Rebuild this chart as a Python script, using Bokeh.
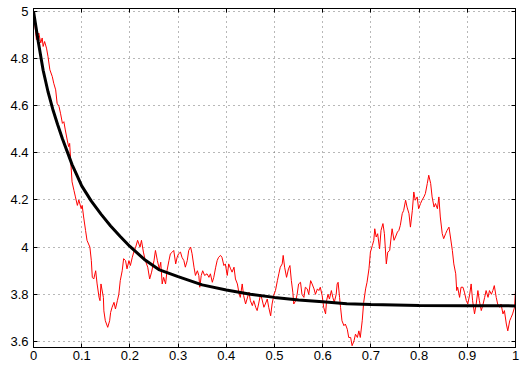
from bokeh.plotting import figure
from bokeh.models import LinearAxis, FixedTicker, CustomJSTickFormatter, Range1d
from bokeh.embed import file_html
from bokeh.resources import INLINE

# noisy path
red_x = [0, 0.006, 0.011, 0.015, 0.018, 0.02, 0.023, 0.027, 0.03, 0.034, 0.039, 0.042, 0.046, 0.049,
         0.053, 0.056, 0.06, 0.063, 0.066, 0.07, 0.073, 0.075, 0.078, 0.08, 0.084, 0.087, 0.091, 0.094,
         0.099, 0.101, 0.104, 0.108, 0.111, 0.117, 0.12, 0.122, 0.125, 0.129, 0.132, 0.136, 0.138, 0.14,
         0.145, 0.146, 0.149, 0.154, 0.158, 0.16, 0.163, 0.167, 0.17, 0.174, 0.177, 0.18, 0.184, 0.187,
         0.191, 0.194, 0.198, 0.201, 0.205, 0.208, 0.212, 0.216, 0.221, 0.224, 0.228, 0.232, 0.237, 0.241,
         0.245, 0.25, 0.253, 0.257, 0.261, 0.264, 0.267, 0.27, 0.274, 0.277, 0.281, 0.284, 0.288, 0.291,
         0.295, 0.298, 0.301, 0.305, 0.308, 0.312, 0.315, 0.319, 0.322, 0.326, 0.329, 0.333, 0.336, 0.34,
         0.343, 0.345, 0.348, 0.351, 0.355, 0.36, 0.364, 0.367, 0.371, 0.374, 0.378, 0.381, 0.384, 0.388,
         0.391, 0.395, 0.398, 0.402, 0.405, 0.409, 0.412, 0.416, 0.419, 0.423, 0.426, 0.429, 0.433, 0.436,
         0.44, 0.443, 0.447, 0.45, 0.454, 0.457, 0.461, 0.464, 0.467, 0.471, 0.474, 0.478, 0.481, 0.485,
         0.488, 0.492, 0.495, 0.499, 0.502, 0.506, 0.509, 0.512, 0.516, 0.518, 0.521, 0.525, 0.529, 0.532,
         0.535, 0.538, 0.54, 0.544, 0.547, 0.55, 0.554, 0.557, 0.561, 0.564, 0.568, 0.571, 0.575, 0.578,
         0.582, 0.585, 0.589, 0.592, 0.595, 0.599, 0.602, 0.606, 0.608, 0.611, 0.614, 0.618, 0.621, 0.624,
         0.628, 0.63, 0.632, 0.635, 0.637, 0.64, 0.644, 0.647, 0.651, 0.654, 0.658, 0.661, 0.665, 0.668,
         0.672, 0.675, 0.678, 0.682, 0.685, 0.689, 0.692, 0.696, 0.699, 0.703, 0.706, 0.708, 0.711, 0.714,
         0.718, 0.721, 0.725, 0.728, 0.732, 0.735, 0.739, 0.742, 0.744, 0.748, 0.751, 0.755, 0.758, 0.761,
         0.765, 0.768, 0.772, 0.775, 0.779, 0.782, 0.786, 0.789, 0.792, 0.796, 0.799, 0.803, 0.806, 0.81,
         0.813, 0.817, 0.82, 0.824, 0.827, 0.831, 0.834, 0.838, 0.841, 0.844, 0.848, 0.851, 0.855, 0.858,
         0.862, 0.865, 0.869, 0.872, 0.876, 0.878, 0.88, 0.884, 0.887, 0.891, 0.894, 0.898, 0.901, 0.905,
         0.908, 0.911, 0.915, 0.918, 0.922, 0.925, 0.929, 0.932, 0.936, 0.939, 0.943, 0.946, 0.95, 0.953,
         0.956, 0.96, 0.963, 0.967, 0.97, 0.974, 0.977, 0.981, 0.984, 0.988, 0.991, 0.994, 0.998, 1.0]
red_y = [5.0, 4.88, 4.908, 4.866, 4.887, 4.851, 4.872, 4.844, 4.809, 4.752, 4.723, 4.695, 4.667, 4.61,
         4.596, 4.568, 4.525, 4.532, 4.497, 4.454, 4.426, 4.44, 4.34, 4.277, 4.24, 4.213, 4.177, 4.2,
         4.163, 4.177, 4.128, 4.071, 4.029, 4.0, 3.943, 3.872, 3.865, 3.90, 3.844, 3.787, 3.773, 3.844,
         3.787, 3.73, 3.688, 3.66, 3.688, 3.723, 3.745, 3.766, 3.738, 3.773, 3.80, 3.858, 3.90, 3.951,
         3.943, 3.908, 3.943, 3.922, 3.957, 3.979, 4.0, 4.029, 4.0, 4.029, 3.979, 3.943, 3.915, 3.865,
         3.894, 3.943, 3.986, 3.943, 3.908, 3.936, 3.844, 3.872, 3.844, 3.90, 3.943, 3.972, 3.979, 3.986,
         3.929, 3.957, 3.972, 3.979, 3.957, 3.943, 3.915, 3.943, 3.986, 4.0, 3.972, 3.915, 3.88, 3.90,
         3.88, 3.83, 3.88, 3.90, 3.88, 3.887, 3.872, 3.887, 3.851, 3.872, 3.915, 3.943, 3.957, 3.965,
         3.957, 3.922, 3.929, 3.88, 3.929, 3.908, 3.894, 3.915, 3.865, 3.844, 3.809, 3.787, 3.844, 3.794,
         3.759, 3.78, 3.809, 3.773, 3.752, 3.773, 3.745, 3.731, 3.759, 3.80, 3.78, 3.745, 3.759, 3.78,
         3.745, 3.709, 3.759, 3.80, 3.816, 3.858, 3.887, 3.915, 3.929, 3.965, 3.915, 3.872, 3.908, 3.922,
         3.858, 3.809, 3.759, 3.773, 3.80, 3.844, 3.851, 3.80, 3.787, 3.83, 3.823, 3.80, 3.858, 3.844,
         3.823, 3.80, 3.823, 3.816, 3.83, 3.794, 3.745, 3.717, 3.773, 3.80, 3.78, 3.816, 3.787, 3.766,
         3.80, 3.844, 3.851, 3.787, 3.745, 3.688, 3.667, 3.674, 3.652, 3.617, 3.617, 3.582, 3.603, 3.631,
         3.617, 3.645, 3.617, 3.688, 3.765, 3.823, 3.851, 3.908, 3.979, 4.007, 4.029, 4.078, 4.043, 4.057,
         3.993, 4.071, 4.10, 4.057, 3.929, 3.979, 3.986, 4.043, 4.078, 4.029, 4.043, 4.064, 4.071, 4.092,
         4.142, 4.156, 4.199, 4.17, 4.142, 4.085, 4.156, 4.234, 4.199, 4.213, 4.163, 4.185, 4.199, 4.213,
         4.227, 4.27, 4.305, 4.27, 4.213, 4.17, 4.185, 4.163, 4.213, 4.128, 4.057, 4.036, 4.057, 4.071,
         4.085, 4.043, 3.986, 3.929, 3.887, 3.816, 3.83, 3.787, 3.83, 3.83, 3.809, 3.773, 3.759, 3.80,
         3.844, 3.773, 3.717, 3.752, 3.816, 3.773, 3.731, 3.752, 3.787, 3.816, 3.787, 3.816, 3.80, 3.816,
         3.837, 3.787, 3.759, 3.745, 3.759, 3.717, 3.731, 3.674, 3.645, 3.688, 3.702, 3.717, 3.745, 3.816]

# smooth mean curve
mean_x = [0, 0.01, 0.02, 0.03, 0.04, 0.05, 0.06, 0.07, 0.08, 0.09, 0.1, 0.12, 0.14, 0.16, 0.18, 0.2,
          0.23, 0.26, 0.3, 0.35, 0.4, 0.45, 0.5, 0.55, 0.6, 0.65, 0.7, 0.75, 0.8, 0.9, 1.0]
mean_y = [5.0, 4.87, 4.75, 4.66, 4.585, 4.52, 4.46, 4.405, 4.35, 4.305, 4.26, 4.195, 4.14, 4.09, 4.045,
          4.003, 3.948, 3.905, 3.875, 3.84, 3.818, 3.8, 3.787, 3.776, 3.768, 3.76, 3.757, 3.755, 3.753,
          3.752, 3.751]

x_ticks = [0, 0.1, 0.2, 0.3, 0.4, 0.5, 0.6, 0.7, 0.8, 0.9, 1]
y_ticks = [3.6, 3.8, 4.0, 4.2, 4.4, 4.6, 4.8, 5.0]

p = figure(width=521, height=366, frame_width=482, frame_height=339,
           min_border_left=33, min_border_top=8, min_border_right=6, min_border_bottom=19,
           x_range=Range1d(0, 1), y_range=Range1d(3.5745, 5.012),
           output_backend="svg", toolbar_location=None, background_fill_color="white",
           border_fill_color="white")
p.outline_line_color = "black"
p.outline_line_width = 1

fmt = CustomJSTickFormatter(code="return String(Math.round(tick*100)/100);")
for ax in (p.xaxis[0], p.yaxis[0]):
    ax.ticker = FixedTicker(ticks=x_ticks if ax is p.xaxis[0] else y_ticks)
    ax.formatter = fmt
    ax.major_tick_in = 4
    ax.major_tick_out = 0
    ax.minor_tick_line_color = None
    ax.axis_line_color = "black"
    ax.major_tick_line_color = "black"
    ax.major_label_text_font = "Liberation Sans"
    ax.major_label_text_font_size = "13px"
    ax.major_label_text_color = "black"
p.xaxis.major_label_standoff = 3
p.yaxis.major_label_standoff = 5

for loc, tks in (("right", y_ticks), ("above", x_ticks)):
    ax = LinearAxis(ticker=FixedTicker(ticks=tks), major_tick_in=4, major_tick_out=0,
                    minor_tick_line_color=None, major_label_text_color=None,
                    major_label_standoff=0, axis_line_color="black", major_tick_line_color="black")
    p.add_layout(ax, loc)

p.xgrid.ticker = FixedTicker(ticks=x_ticks)
p.ygrid.ticker = FixedTicker(ticks=y_ticks)
for g in (p.xgrid[0], p.ygrid[0]):
    g.grid_line_color = "#707070"
    g.grid_line_dash = "1 4"
    g.grid_line_width = 1

p.line(red_x, red_y, line_color="#ff0000", line_width=1)
p.line(mean_x, mean_y, line_color="black", line_width=3)

open("out.html", "w").write(file_html(p, INLINE))
